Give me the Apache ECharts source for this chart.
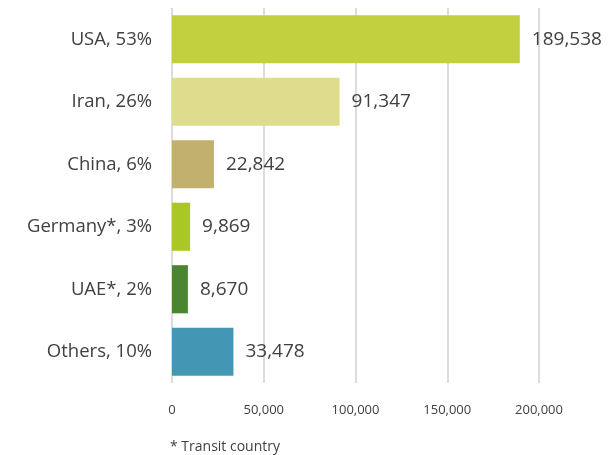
<!DOCTYPE html>
<html><head><meta charset="utf-8">
<script src="https://cdn.jsdelivr.net/npm/echarts@6/dist/echarts.min.js"></script>
<style>html,body{margin:0;padding:0;background:#fff}#c{width:610px;height:455px}</style>
</head><body><div id="c"></div>
<script>
const categories = ['USA, 53%', 'Iran, 26%', 'China, 6%', 'Germany*, 3%', 'UAE*, 2%', 'Others, 10%'];
const values = [189538, 91347, 22842, 9869, 8670, 33478];
const colors = ['#c2cf3e', '#dedd8e', '#c2b06e', '#aac823', '#4a8532', '#4496b5'];
const xTicks = [0, 50000, 100000, 150000, 200000];
const footnote = '* Transit country';

const F = 'Open Sans';
const fmt = v => v.toLocaleString('en-US');
const chart = echarts.init(document.getElementById('c'));
chart.setOption({
  animation: false,
  textStyle: {fontFamily: F},
  grid: {left: 172, right: 71, top: 8, bottom: 72, containLabel: false},
  xAxis: {
    type: 'value', min: xTicks[0], max: xTicks[xTicks.length - 1], interval: 50000,
    axisLine: {show: false}, axisTick: {show: false},
    splitLine: {lineStyle: {color: '#d0d0d0', width: 1.5}},
    axisLabel: {formatter: v => fmt(v), color: '#404040', fontSize: 13, margin: 21, fontFamily: F}
  },
  yAxis: {
    type: 'category', data: categories, inverse: true,
    axisLine: {show: false}, axisTick: {show: false},
    axisLabel: {color: '#404040', fontSize: 18.5, margin: 20, fontFamily: F}
  },
  series: [{
    type: 'bar', barCategoryGap: '23%',
    data: values.map((v, i) => ({value: v, itemStyle: {color: colors[i]}})),
    label: {show: true, position: 'right', distance: 12, formatter: p => fmt(p.value), color: '#404040', fontSize: 19, fontFamily: F}
  }],
  graphic: [{type: 'text', x: 170, y: 447, style: {text: footnote, fill: '#404040', fontSize: 14, fontFamily: F, verticalAlign: 'middle'}}]
});
</script></body></html>
